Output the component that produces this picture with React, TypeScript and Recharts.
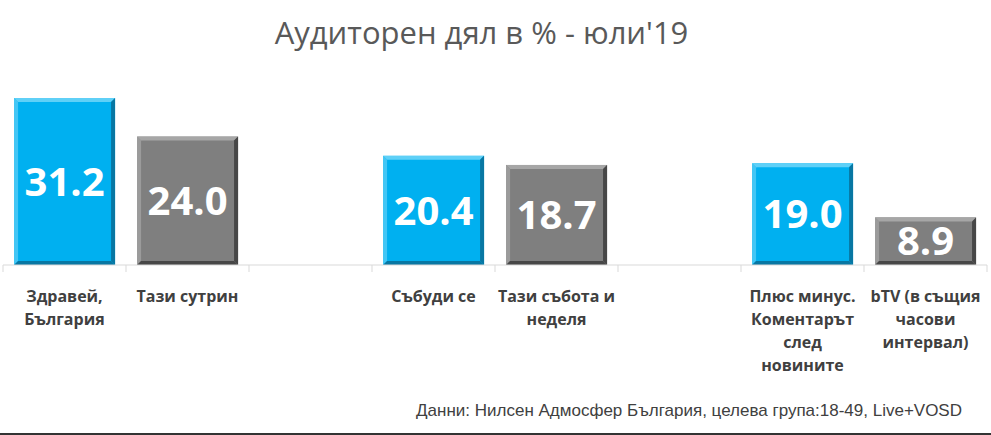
import React from 'react';
import { BarChart, Bar, XAxis, YAxis, Cell, LabelList } from 'recharts';

// Аудиторен дял, юли 2019 (Нилсен Адмосфер, 18-49)
const SHOWS = ['Здравей, България', 'Тази сутрин', 'gap-1', 'Събуди се', 'Тази събота и неделя', 'gap-2', 'Плюс минус. Коментарът след новините', 'bTV (в същия часови интервал)'];
const SHOW_LINES = [['Здравей,', 'България'], ['Тази сутрин'], [], ['Събуди се'], ['Тази събота и', 'неделя'], [], ['Плюс минус.', 'Коментарът', 'след', 'новините'], ['bTV (в същия', 'часови', 'интервал)']];
const SHARE = [31.2, 24.0, null, 20.4, 18.7, null, 19.0, 8.9];
const CHANNEL = ['nova', 'btv', '', 'nova', 'btv', '', 'nova', 'btv'];

const TITLE = "Аудиторен дял в % - юли'19";
const SOURCE = 'Данни: Нилсен Адмосфер България, целева група:18-49, Live+VOSD';

const COLORS: Record<string, { base: string; light: string; dark: string }> = {
  nova: { base: '#00b0f0', light: '#5fd0f7', dark: '#0877a3' },
  btv: { base: '#7f7f7f', light: '#a6a6a6', dark: '#474747' },
};

const data = SHOWS.map((name, i) => ({ name, share: SHARE[i], channel: CHANNEL[i] }));

const W = 991;
const H = 435;
const MARGIN = { top: 51, right: 4, bottom: 50, left: 3 };
const BAND = (W - MARGIN.left - MARGIN.right) / SHOWS.length;

// bar with an office-style bevel
const BevelBar = (props: any) => {
  const { x, y, width, height, payload } = props;
  if (!height || height <= 0) return null;
  const c = COLORS[payload.channel] || COLORS.btv;
  const b = 4;
  const x2 = x + width;
  const y2 = y + height;
  return (
    <g>
      <rect x={x} y={y} width={width} height={height} fill={c.base} />
      <polygon points={`${x},${y} ${x2},${y} ${x2 - b},${y + b} ${x + b},${y + b}`} fill={c.light} />
      <polygon points={`${x},${y} ${x + b},${y + b} ${x + b},${y2 - b} ${x},${y2}`} fill={c.light} opacity={0.7} />
      <polygon points={`${x2},${y} ${x2},${y2} ${x2 - b},${y2 - b} ${x2 - b},${y + b}`} fill={c.dark} />
      <polygon points={`${x},${y2} ${x + b},${y2 - b} ${x2 - b},${y2 - b} ${x2},${y2}`} fill={c.dark} />
    </g>
  );
};

const ShowTick = (props: any) => {
  const { x, y, index } = props;
  const lines = SHOW_LINES[index] || [];
  const left = x - BAND / 2;
  return (
    <g>
      <line x1={left} y1={y - 8} x2={left} y2={y - 1} stroke="#d9d9d9" />
      {index === SHOWS.length - 1 && <line x1={left + BAND} y1={y - 8} x2={left + BAND} y2={y - 1} stroke="#d9d9d9" />}
      <text x={x} y={y} textAnchor="middle" fill="#404040" fontSize={16} fontWeight="bold" fontFamily="'Open Sans', sans-serif">
        {lines.map((l, i) => (
          <tspan key={i} x={x} dy={i === 0 ? 29 : 23}>{l}</tspan>
        ))}
      </text>
    </g>
  );
};

export default function App() {
  return (
    <div style={{ position: 'absolute', left: 0, top: 0, width: W, height: H, background: '#ffffff' }}>
      <div style={{ position: 'absolute', left: -14, width: W, top: 11, textAlign: 'center', fontFamily: "'Open Sans', sans-serif", fontSize: 31, color: '#595959' }}>
        {TITLE}
      </div>
      <BarChart width={W} height={H} data={data} margin={MARGIN} barCategoryGap="9%">
        <XAxis dataKey="name" height={120} interval={0} tickLine={false} axisLine={{ stroke: '#d9d9d9' }} tick={<ShowTick />} />
        <YAxis hide domain={[0, 40]} />
        <Bar dataKey="share" isAnimationActive={false} shape={<BevelBar />}>
          {data.map((d, i) => (
            <Cell key={i} fill={COLORS[d.channel]?.base} />
          ))}
          <LabelList
            dataKey="share"
            position="center"
            fill="#ffffff"
            fontSize={40}
            fontWeight="bold"
            fontFamily="'Open Sans', sans-serif"
            formatter={(v: any) => (v == null ? '' : Number(v).toFixed(1))}
          />
        </Bar>
      </BarChart>
      <div style={{ position: 'absolute', right: 29, top: 401, fontFamily: "'Liberation Sans', Arial, sans-serif", fontSize: 17, color: '#404040' }}>
        {SOURCE}
      </div>
      <div style={{ position: 'absolute', left: 0, top: 433, width: W, height: 2, background: '#333333' }} />
    </div>
  );
}
